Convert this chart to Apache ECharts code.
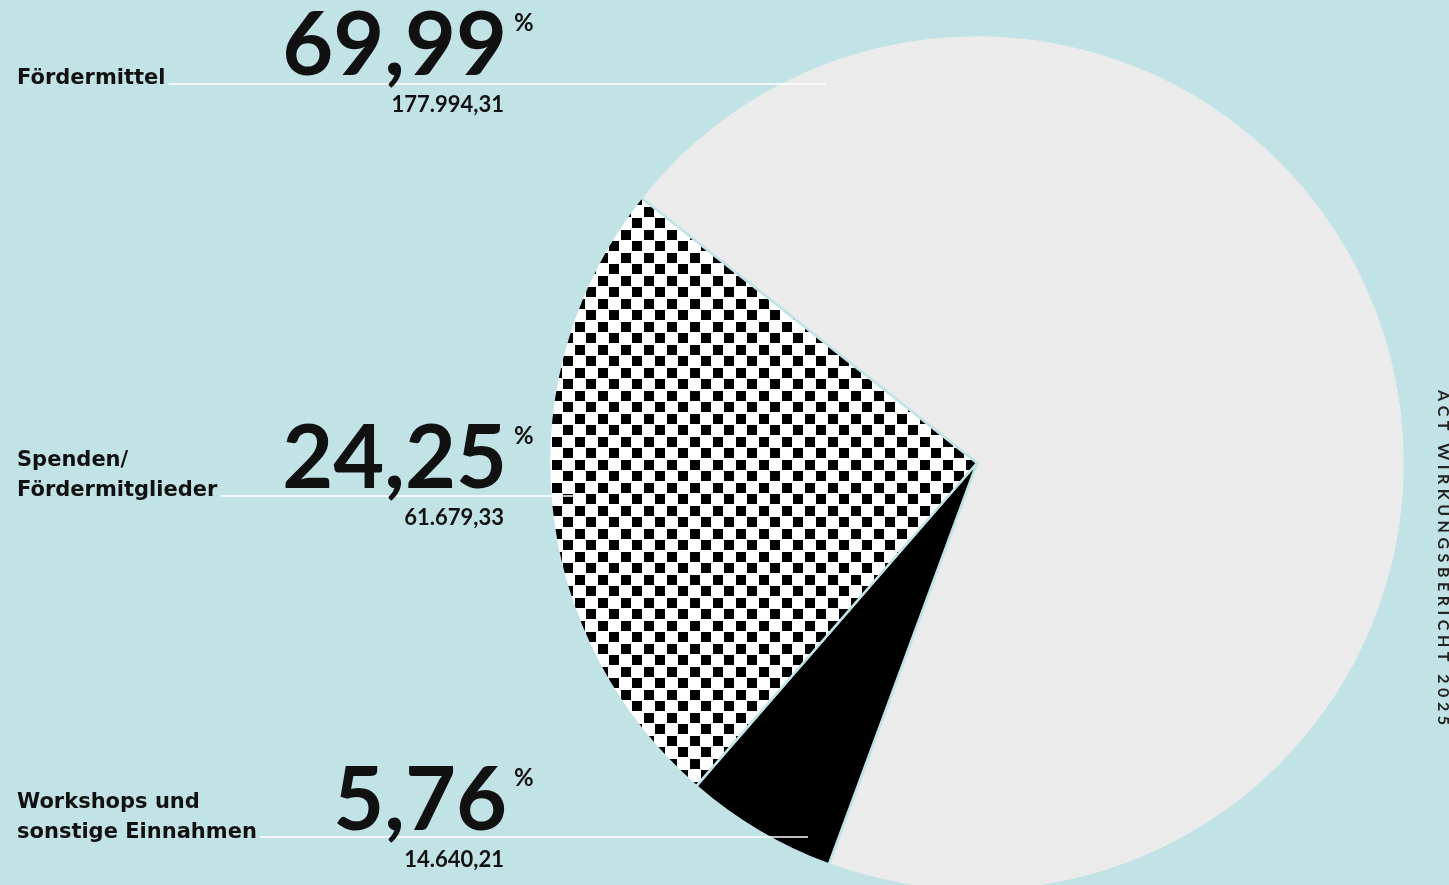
<!DOCTYPE html>
<html>
<head>
<meta charset="utf-8">
<title>Einnahmen</title>
<script src="https://cdn.jsdelivr.net/npm/echarts@6/dist/echarts.min.js"></script>
<style>
  html, body { margin: 0; padding: 0; background: #c1e3e6; }
  #chart { width: 1449px; height: 885px; }
</style>
</head>
<body>
<div id="chart"></div>
<script>
// Daten
var names = ["Fördermittel", "Spenden/\nFördermitglieder", "Workshops und\nsonstige Einnahmen"];
var amounts = [177994.31, 61679.33, 14640.21];
var sideTitle = "ACT WIRKUNGSBERICHT 2025";

// Reihenfolge im Kreis (im Uhrzeigersinn ab Fördermittel)
var pieOrder = [0, 2, 1];

var bg = "#c1e3e6";
var ink = "#111111";

// Layout der Beschriftung links
var rowBaseline = [75, 488, 830];
var lineY = [84, 496, 837];
var lineEnd = [826, 585, 808];
var labelFirstY = [79, 461, 803];

function fmtAmount(v) {
  var parts = v.toFixed(2).split(".");
  var int = parts[0].replace(/\B(?=(\d{3})+(?!\d))/g, ".");
  return int + "," + parts[1];
}

var total = amounts.reduce(function (a, b) { return a + b; }, 0);
function fmtPercent(v) {
  return (v / total * 100).toFixed(2).replace(".", ",");
}

// Schachbrettmuster
var pat = document.createElement("canvas");
pat.width = 23;
pat.height = 23;
var pctx = pat.getContext("2d");
pctx.fillStyle = "#ffffff";
pctx.fillRect(0, 0, 23, 23);
pctx.fillStyle = "#000000";
pctx.fillRect(0, 0, 10, 10);
pctx.fillRect(11, 11, 10, 10);
pctx.fillRect(11 + 23, 11, 10, 10);

var fills = ["#ebebeb", { image: pat, repeat: "repeat" }, "#000000"];

var pieData = pieOrder.map(function (i) {
  return { name: names[i], value: amounts[i], itemStyle: { color: fills[i] } };
});

var graphics = [];
var labelFont = "DejaVu Sans";
var numFont = "Lato";

for (var i = 0; i < names.length; i++) {
  var lines = names[i].split("\n");
  var maxW = 0;
  var mctx = document.createElement("canvas").getContext("2d");
  mctx.font = "bold 21px '" + labelFont + "'";
  lines.forEach(function (t, k) {
    maxW = Math.max(maxW, mctx.measureText(t).width);
    graphics.push({
      type: "text", z: 100, x: 17, y: labelFirstY[i] + k * 30,
      style: { text: t, fill: ink, fontSize: 21, fontWeight: "bold", fontFamily: labelFont, align: "left", verticalAlign: "middle" }
    });
  });
  // Linie
  graphics.push({
    type: "line", z: 100,
    shape: { x1: 17 + maxW + 3, y1: lineY[i], x2: lineEnd[i], y2: lineY[i] },
    style: { stroke: "#ffffff", lineWidth: 1.5 }
  });
  // grosse Prozentzahl
  graphics.push({
    type: "text", z: 101, x: 507, y: rowBaseline[i] - 28,
    style: { text: fmtPercent(amounts[i]), fill: ink, fontSize: 88, fontWeight: "bold", fontFamily: numFont, align: "right", verticalAlign: "middle" }
  });
  graphics.push({
    type: "text", z: 101, x: 514, y: rowBaseline[i] - 52,
    style: { text: "%", fill: ink, fontSize: 24, fontWeight: "bold", fontFamily: numFont, align: "left", verticalAlign: "middle" }
  });
  // Betrag
  graphics.push({
    type: "text", z: 101, x: 504, y: rowBaseline[i] + 30,
    style: { text: fmtAmount(amounts[i]), fill: ink, fontSize: 22, fontWeight: "bold", fontFamily: numFont, align: "right", verticalAlign: "middle" }
  });
}

// senkrechter Titel rechts, Buchstabe fuer Buchstabe gesperrt
(function () {
  var c = document.createElement("canvas").getContext("2d");
  c.font = "bold 16px " + numFont;
  var chars = sideTitle.split("");
  var widths = chars.map(function (ch) { return c.measureText(ch).width; });
  var sum = widths.reduce(function (a, b) { return a + b; }, 0);
  var gap = (335 - sum) / (chars.length - 1);
  var y = 390;
  chars.forEach(function (ch, k) {
    if (ch !== " ") {
      graphics.push({
        type: "text", z: 100, x: 1443, y: y, rotation: -Math.PI / 2,
        style: { text: ch, fill: "#222", fontSize: 16, fontWeight: "bold", fontFamily: numFont, align: "left", verticalAlign: "middle" }
      });
    }
    y += widths[k] + gap;
  });
})();

var chart = echarts.init(document.getElementById("chart"));
chart.setOption({
  backgroundColor: bg,
  animation: false,
  series: [{
    type: "pie",
    center: [977, 463],
    radius: 428,
    startAngle: 141.7,
    clockwise: true,
    silent: true,
    label: { show: false },
    labelLine: { show: false },
    itemStyle: { borderColor: bg, borderWidth: 2.5 },
    data: pieData
  }],
  graphic: graphics
});
</script>
</body>
</html>
